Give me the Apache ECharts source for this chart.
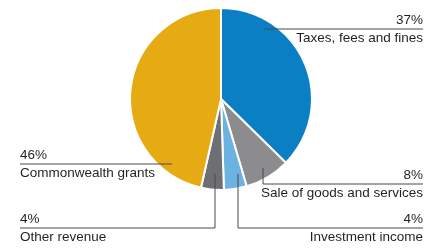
<!DOCTYPE html>
<html>
<head>
<meta charset="utf-8">
<script src="https://cdn.jsdelivr.net/npm/echarts@6/dist/echarts.min.js"></script>
<style>
  html, body { margin: 0; padding: 0; background: #fff; }
  #chart { width: 439px; height: 248px; }
</style>
</head>
<body>
<div id="chart"></div>
<script>
// data, clockwise from 12 o'clock
const categories = ["Taxes, fees and fines", "Sale of goods and services", "Investment income", "Other revenue", "Commonwealth grants"];
const values = [37, 8, 4, 4, 46];
const colors = ["#0A7FC4", "#8C8C8E", "#6DB3E2", "#6E6F73", "#E6AA12"];

// where each label sits: anchor inside the slice, elbow, line end (label side)
const labelGuides = [
  { anchor: [264, 29], elbow: [264, 29], end: [423, 29], align: "right" },
  { anchor: [263, 168], elbow: [263, 184], end: [423, 184], align: "right" },
  { anchor: [238, 174], elbow: [238, 228], end: [423, 228], align: "right" },
  { anchor: [215, 174], elbow: [215, 228], end: [20, 228], align: "left" },
  { anchor: [172, 164], elbow: [172, 164], end: [20, 164], align: "left" },
];

const font = "Liberation Sans";
const pieData = categories.map((name, i) => ({
  name: name,
  value: values[i],
  itemStyle: { color: colors[i] },
}));

const chart = echarts.init(document.getElementById("chart"));

const base = {
  type: "pie",
  center: [221, 99],
  radius: [0, 91],
  startAngle: 90,
  clockwise: true,
  avoidLabelOverlap: false,
  silent: true,
};

chart.setOption({
  animation: false,
  series: [
    // the slices
    Object.assign({}, base, {
      itemStyle: { borderColor: "#fff", borderWidth: 2 },
      label: { show: false },
      labelLine: { show: false },
      data: pieData,
    }),
    // same pie again, invisible, only to draw labels and leader lines on top
    Object.assign({}, base, {
      z: 5,
      itemStyle: { color: "rgba(0,0,0,0)", borderWidth: 0 },
      label: {
        show: true,
        position: "outside",
        fontFamily: font,
        color: "#231F20",
        formatter: (p) => "{p|" + p.value + "%}\n{n|" + p.name + "}",
        rich: {
          p: { fontFamily: font, fontSize: 13.5, lineHeight: 18, color: "#231F20" },
          n: { fontFamily: font, fontSize: 13.5, lineHeight: 18, color: "#231F20" },
        },
      },
      labelLine: {
        show: true,
        length: 10,
        length2: 10,
        lineStyle: { color: "#4a4a4a", width: 1 },
      },
      labelLayout: (params) => {
        const g = labelGuides[params.dataIndex];
        return {
          x: g.end[0],
          y: g.end[1],
          align: g.align,
          verticalAlign: "middle",
          labelLinePoints: [g.anchor, g.elbow, g.end],
        };
      },
      data: categories.map((name, i) => ({ name: name, value: values[i] })),
    }),
  ],
});
</script>
</body>
</html>
